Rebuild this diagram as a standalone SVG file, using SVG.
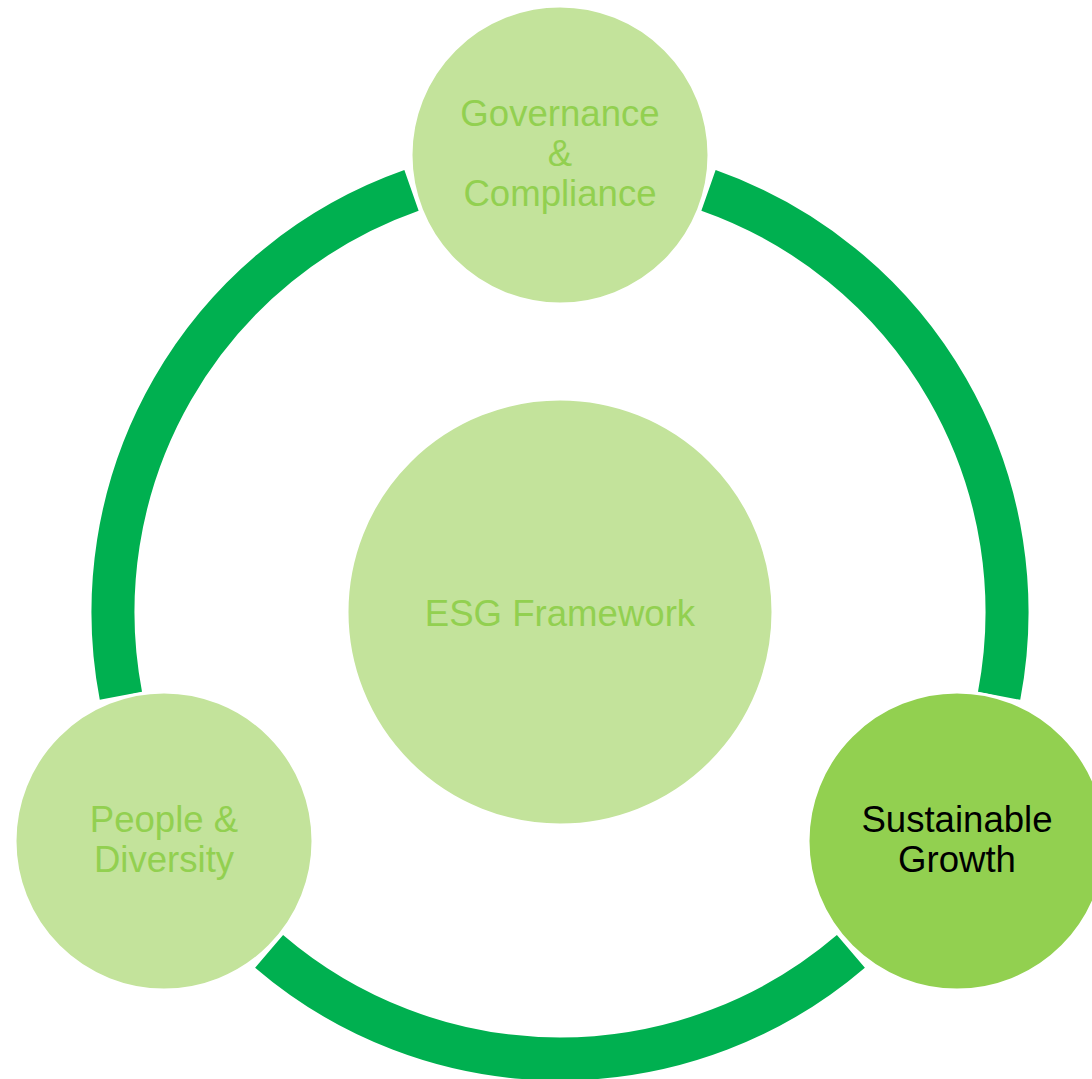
<svg xmlns="http://www.w3.org/2000/svg" width="1092" height="1079" viewBox="0 0 1092 1079">
  <style>
    .arc { fill: none; stroke: #00B050; stroke-width: 43; stroke-linecap: butt; }
    .node { stroke: #FFFFFF; stroke-width: 3; }
    .light { fill: #C3E39B; }
    .dark { fill: #92D050; }
    .t { font-family: "Liberation Sans", Arial, sans-serif; font-size: 36.6px; text-anchor: middle; }
    .tl { fill: #92D050; }
    .tb { fill: #000000; }
  </style>
  <rect width="1092" height="1079" fill="#FFFFFF"/>
  <g id="connectors">
    <path class="arc" d="M 708.5 190.4 A 447 447 0 0 1 999.1 695.8"/>
    <path class="arc" d="M 850.9 951.4 A 447 447 0 0 1 269.1 951.4"/>
    <path class="arc" d="M 120.9 695.8 A 447 447 0 0 1 411.5 190.4"/>
  </g>
  <g id="center">
    <circle class="node light" cx="560" cy="612" r="213"/>
    <text class="t tl" x="560" y="626">ESG Framework</text>
  </g>
  <g id="governance">
    <circle class="node light" cx="560" cy="155" r="149"/>
    <text class="t tl" x="560" y="126">Governance</text>
    <text class="t tl" x="560" y="166">&amp;</text>
    <text class="t tl" x="560" y="206">Compliance</text>
  </g>
  <g id="sustainable">
    <circle class="node dark" cx="957" cy="841" r="149"/>
    <text class="t tb" x="957" y="832">Sustainable</text>
    <text class="t tb" x="957" y="872">Growth</text>
  </g>
  <g id="people">
    <circle class="node light" cx="164" cy="841" r="149"/>
    <text class="t tl" x="164" y="832">People &amp;</text>
    <text class="t tl" x="164" y="872">Diversity</text>
  </g>
</svg>
